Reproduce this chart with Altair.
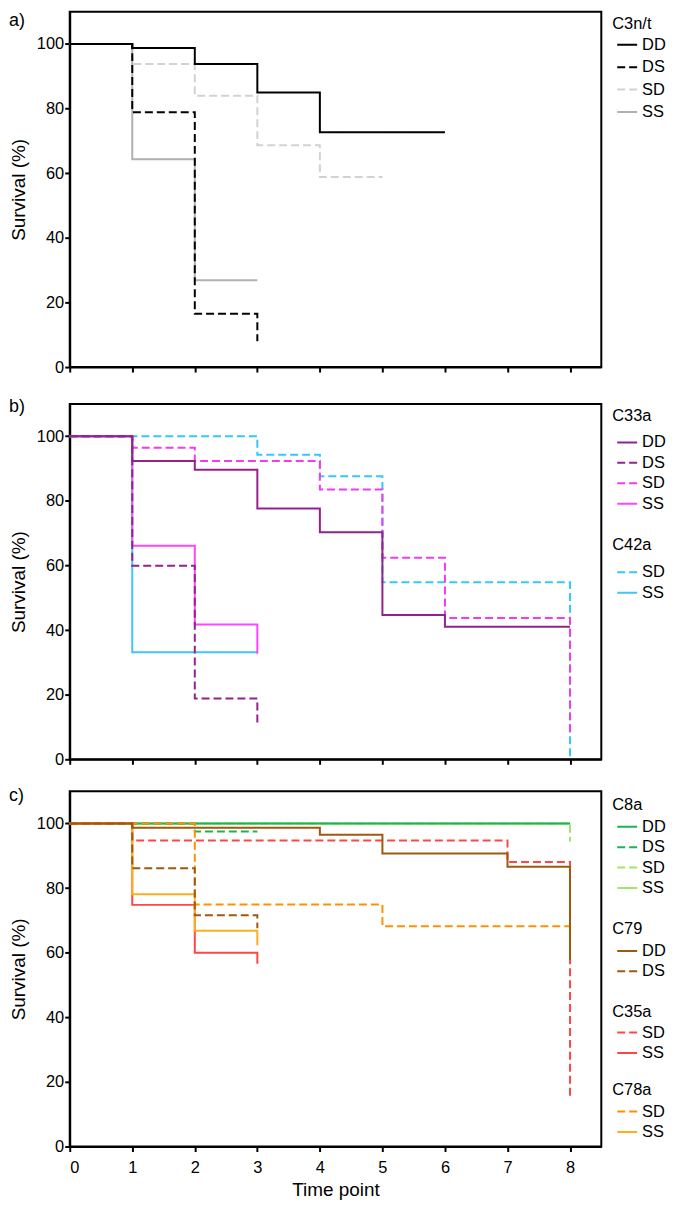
import altair as alt
import pandas as pd

# ---------------- data (time point, survival %) ----------------
# Panel a) C3n/t
A_DD_T = [0, 1, 2, 3, 4, 6];  A_DD_V = [100, 98.8, 93.8, 85.0, 72.7, 72.7]
A_DS_T = [0, 1, 2, 3];        A_DS_V = [100, 78.9, 16.5, 8.0]
A_SD_T = [0, 1, 2, 3, 4, 5];  A_SD_V = [100, 93.8, 84.0, 68.7, 58.8, 58.8]
A_SS_T = [0, 1, 2, 3];        A_SS_V = [100, 64.3, 26.9, 26.9]

# Panel b) C33a
B33_DD_T = [0, 1, 2, 3, 4, 5, 6, 8]; B33_DD_V = [100, 92.3, 89.6, 77.6, 70.3, 44.7, 41.0, 41.0]
B33_DS_T = [0, 1, 2, 3];             B33_DS_V = [100, 59.9, 18.8, 11.1]
B33_SD_T = [0, 1, 2, 4, 5, 6, 8];    B33_SD_V = [100, 96.4, 92.3, 83.5, 62.4, 43.7, 7.5]
B33_SS_T = [0, 1, 2, 3];             B33_SS_V = [100, 66.1, 41.7, 32.7]
# Panel b) C42a
B42_SD_T = [0, 3, 4, 5, 8];          B42_SD_V = [100, 94.3, 87.6, 54.8, 0]
B42_SS_T = [0, 1, 3];                B42_SS_V = [100, 33.1, 33.1]

# Panel c) C8a
C8_DD_T = [0, 8];        C8_DD_V = [100, 100]
C8_DS_T = [0, 2, 3];     C8_DS_V = [100, 97.5, 97.5]
C8_SD_T = [0, 8];        C8_SD_V = [100, 94.4]
C8_SS_T = [0, 8];        C8_SS_V = [100, 100]
# Panel c) C79
C79_DD_T = [0, 1, 4, 5, 7, 8]; C79_DD_V = [100, 98.7, 96.5, 90.7, 86.6, 57.7]
C79_DS_T = [0, 1, 2, 3];       C79_DS_V = [100, 86.1, 71.6, 67.6]
# Panel c) C35a
C35_SD_T = [0, 1, 7, 8];       C35_SD_V = [100, 94.7, 88.1, 15.6]
C35_SS_T = [0, 1, 2, 3];       C35_SS_V = [100, 74.8, 60.0, 56.6]
# Panel c) C78a
C78_SD_T = [0, 2, 5, 8];       C78_SD_V = [100, 74.9, 68.2, 68.2]
C78_SS_T = [0, 1, 2, 3];       C78_SS_V = [100, 78.1, 66.8, 62.3]

X_TICKS = [0, 1, 2, 3, 4, 5, 6, 7, 8]
Y_TICKS = [0, 20, 40, 60, 80, 100]

SOLID = [1, 0]
DASH = [8, 4]

FONT = "Liberation Sans"
W = 534
H = 357
LEG_X = W + 11


def make_df(entries):
    rows = []
    for code, ts, vs in entries:
        for t, v in zip(ts, vs):
            rows.append({"g": code, "t": t, "v": v})
    return pd.DataFrame(rows)


def group_layer(title, codes, series, colors, dashes, legend_y, x_axis, tpad=2.5, rpad=0.5):
    df = make_df(list(reversed(list(zip(codes, *zip(*series))))))
    leg = dict(title=title, orient="none", legendX=LEG_X, legendY=legend_y,
               titlePadding=tpad, rowPadding=rpad)
    return alt.Chart(df).mark_line(interpolate="step-after", strokeWidth=2).encode(
        x=alt.X("t:Q", scale=alt.Scale(domain=[0, 8.5], nice=False, zero=False), axis=x_axis),
        y=alt.Y("v:Q", scale=alt.Scale(domain=[0, 110], nice=False),
                axis=alt.Axis(values=Y_TICKS, title="Survival (%)")),
        color=alt.Color("g:N", scale=alt.Scale(domain=codes, range=colors),
                        legend=alt.Legend(**leg)),
        strokeDash=alt.StrokeDash("g:N", scale=alt.Scale(domain=codes, range=dashes),
                                  legend=alt.Legend(**leg)),
    )


def label_layer(txt, ypos):
    return alt.Chart(pd.DataFrame({"lab": [txt]})).mark_text(
        align="left", baseline="top", fontSize=18, font=FONT, color="black"
    ).encode(x=alt.value(-61), y=alt.value(ypos), text="lab:N")


ax_hidden = alt.Axis(values=X_TICKS, labels=False, title=None)
ax_shown = alt.Axis(values=X_TICKS, title="Time point", format="d")

codes4 = ["DD", "DS", "SD", "SS"]
dash4 = [SOLID, DASH, DASH, SOLID]

# ---- panel a ----
pa_lines = group_layer(
    "C3n/t", codes4,
    [(A_DD_T, A_DD_V), (A_DS_T, A_DS_V), (A_SD_T, A_SD_V), (A_SS_T, A_SS_V)],
    ["#000000", "#000000", "#d2d2d2", "#b0b0b0"], dash4, 4.7, ax_hidden, tpad=1, rpad=2.5)
pa = alt.layer(pa_lines, label_layer("a)", 0)).properties(width=W, height=H)

# ---- panel b ----
pb42 = group_layer(
    "C42a", ["SD", "SS"],
    [(B42_SD_T, B42_SD_V), (B42_SS_T, B42_SS_V)],
    ["#33c8ff", "#40c4ff"], [DASH, SOLID], 134.2, ax_hidden, tpad=7.5)
pb33 = group_layer(
    "C33a", codes4,
    [(B33_DD_T, B33_DD_V), (B33_DS_T, B33_DS_V), (B33_SD_T, B33_SD_V), (B33_SS_T, B33_SS_V)],
    ["#93228f", "#93228f", "#f03cf0", "#ff44ff"], dash4, 4.3, ax_hidden, tpad=6.9)
pb = alt.layer(pb42, pb33, label_layer("b)", -6)).resolve_scale(
    color="independent", strokeDash="independent").properties(width=W, height=H)

# ---- panel c ----
pc8 = group_layer(
    "C8a", codes4,
    [(C8_DD_T, C8_DD_V), (C8_DS_T, C8_DS_V), (C8_SD_T, C8_SD_V), (C8_SS_T, C8_SS_V)],
    ["#19b454", "#19b454", "#a3e36c", "#a3e36c"], dash4, 5.8, ax_shown, tpad=2.5)
pc35 = group_layer(
    "C35a", ["SD", "SS"],
    [(C35_SD_T, C35_SD_V), (C35_SS_T, C35_SS_V)],
    ["#ff4646", "#ff4646"], [DASH, SOLID], 213.5, ax_shown, tpad=1.5)
pc78 = group_layer(
    "C78a", ["SD", "SS"],
    [(C78_SD_T, C78_SD_V), (C78_SS_T, C78_SS_V)],
    ["#ff9000", "#ffae1c"], [DASH, SOLID], 292.2, ax_shown, tpad=2.2)
pc79 = group_layer(
    "C79", ["DD", "DS"],
    [(C79_DD_T, C79_DD_V), (C79_DS_T, C79_DS_V)],
    ["#a0580f", "#a0580f"], [SOLID, DASH], 130.5, ax_shown, tpad=2.5)
pc = alt.layer(pc8, pc35, pc78, pc79, label_layer("c)", -4)).resolve_scale(
    color="independent", strokeDash="independent").properties(width=W, height=H)

chart = alt.vconcat(alt.vconcat(pa, pb, spacing=20), pc, spacing=17).properties(
    padding={"left": 0, "top": 0, "right": 0, "bottom": 0}
).configure(font=FONT).configure_view(
    stroke="black", strokeWidth=2
).configure_axis(
    grid=False, domainColor="black", domainWidth=2, tickColor="black", tickWidth=2,
    tickSize=5, labelFontSize=16.5, labelColor="black",
    titleFontSize=19, titleFontWeight="normal", titleColor="black", labelFont=FONT, titleFont=FONT
).configure_axisX(labelPadding=8, titlePadding=4.5).configure_axisY(
    labelPadding=1, titlePadding=7.5
).configure_legend(
    titleFontSize=16.5, titleFontWeight="normal", titleColor="black", labelFontSize=16.5,
    labelColor="black", symbolType="stroke", symbolSize=400, symbolStrokeWidth=2,
    symbolOffset=4, labelOffset=4, labelFont=FONT, titleFont=FONT
)

chart.save("out.html", embed_options={"renderer": "svg", "actions": False})
